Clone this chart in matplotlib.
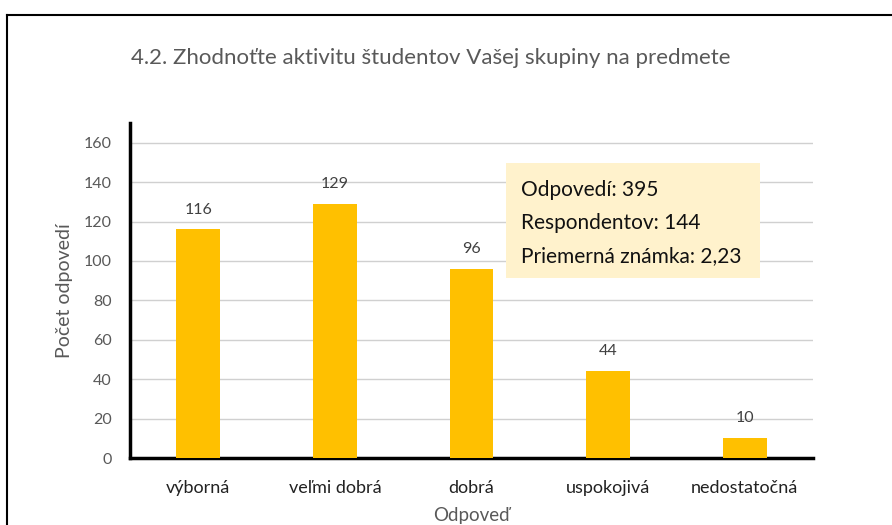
import matplotlib.pyplot as plt
from matplotlib.lines import Line2D

categories = ['výborná', 'veľmi dobrá', 'dobrá', 'uspokojivá', 'nedostatočná']
counts = [116, 129, 96, 44, 10]
yticks = [0, 20, 40, 60, 80, 100, 120, 140, 160]
title = '4.2. Zhodnoťte aktivitu študentov Vašej skupiny na predmete'
info_lines = ['Odpovedí: 395', 'Respondentov: 144', 'Priemerná známka: 2,23']

plt.rcParams['font.family'] = ['Lato', 'DejaVu Sans']

W, H = 892, 525
fig = plt.figure(figsize=(W / 100, H / 100), dpi=100)
ax = fig.add_axes([130 / W, 1 - 458 / H, (813 - 130) / W, (458 - 123) / H])

x = range(len(categories))
ax.bar(x, counts, width=0.32, color='#FFC000', zorder=3)
for i, v in zip(x, counts):
    ax.text(i, v + 6.5, str(v), ha='center', va='bottom', fontsize=11.5, color='#404040')

ax.set_xlim(-0.5, len(categories) - 0.5)
ax.set_ylim(0, 170)
ax.set_yticks(yticks)
ax.set_xticks(list(x))
ax.set_xticklabels(categories, fontsize=13, color='#222222')
ax.tick_params(axis='y', labelsize=11.5, labelcolor='#595959', length=0, pad=13)
ax.tick_params(axis='x', length=0, pad=16)
ax.grid(axis='y', color='#D0D0D0', linewidth=1, zorder=0)

for s in ['top', 'right']:
    ax.spines[s].set_visible(False)
ax.spines['left'].set_linewidth(2.5)
ax.spines['bottom'].set_linewidth(2.5)
ax.spines['left'].set_color('black')
ax.spines['bottom'].set_color('black')

ax.set_ylabel('Počet odpovedí', fontsize=14, color='#595959', labelpad=8)
ax.set_xlabel('Odpoveď', fontsize=13.5, color='#595959', labelpad=8)

fig.text(431 / W, 1 - 58 / H, title, ha='center', va='center', fontsize=16, color='#595959')

# info box
box_x0, box_y0, box_x1, box_y1 = 506, 163, 760, 278
fig.patches.append(plt.Rectangle((box_x0 / W, 1 - box_y1 / H), (box_x1 - box_x0) / W,
                                 (box_y1 - box_y0) / H, transform=fig.transFigure,
                                 facecolor='#FFF2CC', edgecolor='none', zorder=5))
for k, line in enumerate(info_lines):
    fig.text(521 / W, 1 - (190 + k * 33) / H, line, ha='left', va='center',
             fontsize=15, color='#111111', zorder=6)

# outer frame (top and left edges)
fig.add_artist(Line2D([7 / W, 1], [1 - 15 / H, 1 - 15 / H], color='black', lw=1.5))
fig.add_artist(Line2D([7 / W, 7 / W], [0, 1 - 15 / H], color='black', lw=1.5))

fig.savefig('out.png', dpi=100)
